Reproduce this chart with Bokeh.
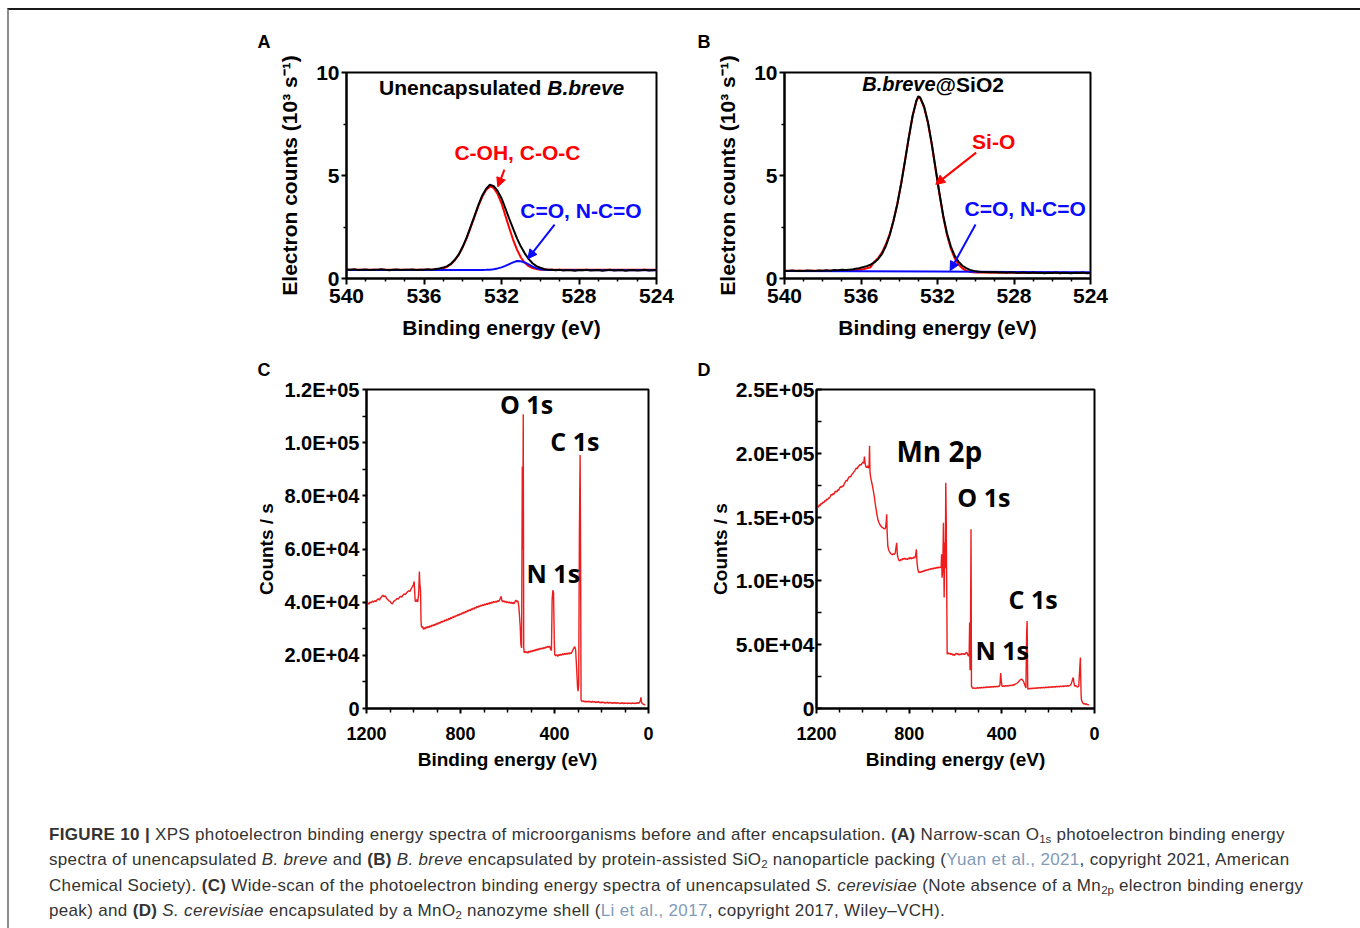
from bokeh.plotting import figure
from bokeh.models import Range1d, FixedTicker, Label, Arrow, NormalHead, Spacer, Div
from bokeh.layouts import row, column
from bokeh.embed import file_html
from bokeh.resources import INLINE

# ---------------- data ----------------
# Panel A: unencapsulated B. breve, O1s narrow scan (10^3 counts/s)
a_env_E = [540.0, 539.8, 539.6, 539.4, 539.2, 539.0, 538.8, 538.6, 538.4, 538.2, 538.0, 537.8, 537.6, 537.4,
           537.2, 537.0, 536.8, 536.6, 536.4, 536.2, 536.0, 535.8, 535.6, 535.4, 535.2, 535.0, 534.8, 534.6,
           534.4, 534.2, 534.0, 533.8, 533.6, 533.4, 533.2, 533.0, 532.8, 532.6, 532.5, 532.4, 532.2, 532.0,
           531.8, 531.6, 531.4, 531.2, 531.0, 530.8, 530.6, 530.4, 530.2, 530.0, 529.8, 529.6, 529.4, 529.2,
           529.0, 528.8, 528.6, 528.4, 528.2, 528.0, 527.8, 527.6, 527.4, 527.2, 527.0, 526.8, 526.6, 526.4,
           526.2, 526.0, 525.8, 525.6, 525.4, 525.2, 525.0, 524.8, 524.6, 524.4, 524.2, 524.0]
a_env_y = [0.44, 0.42, 0.45, 0.41, 0.43, 0.44, 0.41, 0.43, 0.42, 0.45, 0.42, 0.40, 0.43, 0.44,
           0.41, 0.43, 0.42, 0.44, 0.41, 0.43, 0.42, 0.45, 0.43, 0.46, 0.49, 0.53, 0.60, 0.73,
           0.92, 1.18, 1.55, 1.98, 2.50, 3.02, 3.55, 4.02, 4.35, 4.55, 4.52, 4.48, 4.25, 3.90,
           3.40, 2.90, 2.42, 1.95, 1.55, 1.22, 0.95, 0.74, 0.60, 0.52, 0.46, 0.43, 0.42, 0.40,
           0.42, 0.39, 0.41, 0.40, 0.38, 0.41, 0.40, 0.42, 0.39, 0.40, 0.41, 0.38, 0.40, 0.42,
           0.39, 0.40, 0.41, 0.38, 0.40, 0.41, 0.39, 0.40, 0.42, 0.39, 0.40, 0.41]
a_fit1_E = [540.0, 536.0, 535.4, 535.0, 534.8, 534.6, 534.4, 534.2, 534.0, 533.8, 533.6, 533.4, 533.2, 533.0,
            532.8, 532.6, 532.5, 532.4, 532.2, 532.0, 531.8, 531.6, 531.4, 531.2, 531.0, 530.8, 530.6,
            530.4, 530.2, 530.0, 529.5, 524.0]
a_fit1_y = [0.42, 0.42, 0.44, 0.50, 0.57, 0.70, 0.90, 1.16, 1.52, 1.95, 2.46, 2.98, 3.50, 3.95,
            4.30, 4.46, 4.45, 4.38, 4.10, 3.65, 3.05, 2.45, 1.88, 1.40, 1.02, 0.76, 0.60,
            0.51, 0.46, 0.43, 0.42, 0.42]
a_fit2_E = [540.0, 533.2, 533.0, 532.8, 532.6, 532.4, 532.2, 532.0, 531.8, 531.6, 531.4, 531.2, 531.0,
            530.8, 530.6, 530.4, 530.2, 530.0, 529.8, 529.6, 524.0]
a_fit2_y = [0.41, 0.41, 0.415, 0.42, 0.43, 0.45, 0.49, 0.54, 0.61, 0.70, 0.78, 0.85, 0.84,
            0.78, 0.69, 0.58, 0.50, 0.45, 0.42, 0.41, 0.40]

# Panel B: B. breve@SiO2
b_env_E = [540.0, 539.8, 539.6, 539.4, 539.2, 539.0, 538.8, 538.6, 538.4, 538.2, 538.0, 537.8, 537.6, 537.4,
           537.2, 537.0, 536.8, 536.6, 536.4, 536.3, 536.1, 535.9, 535.7, 535.5, 535.3, 535.1, 534.9, 534.7,
           534.5, 534.3, 534.1, 533.9, 533.7, 533.5, 533.3, 533.1, 533.0, 532.9, 532.7, 532.5, 532.3, 532.1,
           531.9, 531.7, 531.5, 531.3, 531.1, 530.9, 530.7, 530.5, 530.3, 530.1, 529.9, 529.7, 529.5, 529.3,
           529.0, 528.8, 528.6, 528.4, 528.2, 528.0, 527.8, 527.6, 527.4, 527.2, 527.0, 526.8, 526.6, 526.4,
           526.2, 526.0, 525.8, 525.6, 525.4, 525.2, 525.0, 524.8, 524.6, 524.4, 524.2, 524.0]
b_env_y = [0.38, 0.36, 0.39, 0.37, 0.38, 0.36, 0.39, 0.38, 0.37, 0.39, 0.38, 0.40, 0.38, 0.41,
           0.40, 0.42, 0.41, 0.43, 0.45, 0.47, 0.50, 0.55, 0.60, 0.67, 0.78, 0.95, 1.20, 1.58,
           2.10, 2.80, 3.62, 4.60, 5.70, 6.85, 7.90, 8.65, 8.85, 8.78, 8.35, 7.60, 6.55, 5.35,
           4.15, 3.05, 2.18, 1.55, 1.10, 0.82, 0.62, 0.50, 0.42, 0.37, 0.34, 0.32, 0.31, 0.30,
           0.31, 0.29, 0.30, 0.28, 0.30, 0.29, 0.27, 0.29, 0.28, 0.27, 0.29, 0.27, 0.28, 0.26,
           0.28, 0.27, 0.29, 0.26, 0.28, 0.27, 0.26, 0.28, 0.27, 0.29, 0.26, 0.27]
b_fit1_E = [540.0, 536.5, 536.0, 535.5, 535.3, 535.1, 534.9, 534.7, 534.5, 534.3, 534.1, 533.9, 533.7, 533.5,
            533.3, 533.1, 533.0, 532.9, 532.7, 532.5, 532.3, 532.1, 531.9, 531.7, 531.5, 531.3, 531.1,
            530.9, 530.7, 530.5, 530.3, 530.0, 524.0]
b_fit1_y = [0.38, 0.39, 0.42, 0.55, 0.82, 1.00, 1.27, 1.66, 2.15, 2.82, 3.62, 4.62, 5.72, 6.85,
            7.90, 8.62, 8.80, 8.74, 8.30, 7.55, 6.50, 5.30, 4.10, 3.00, 2.10, 1.45, 0.98,
            0.68, 0.49, 0.38, 0.32, 0.29, 0.27]
b_fit2_E = [540.0, 536.0, 532.0, 528.0, 524.0]
b_fit2_y = [0.36, 0.35, 0.34, 0.32, 0.30]

# Panel C: wide scan, unencapsulated S. cerevisiae (counts/s)
c_E = [1200, 1195, 1190, 1185, 1180, 1175, 1170, 1165, 1160, 1155, 1150, 1145, 1140, 1135, 1130, 1125,
       1120, 1115, 1110, 1105, 1100, 1095, 1090, 1085, 1080, 1075, 1070, 1065, 1060, 1055, 1050, 1045,
       1040, 1035, 1030, 1025, 1020, 1015, 1010, 1005, 1000, 997, 995, 993, 990, 986, 982, 978, 975,
       973, 970, 968, 966, 962, 958, 954, 950, 946, 942, 938, 934, 930, 926, 922, 918, 914, 910, 906,
       902, 898, 894, 890, 886, 882, 878, 874, 870, 866, 862, 858, 854, 850, 846, 842, 838, 834, 830,
       826, 822, 818, 814, 810, 806, 802, 798, 794, 790, 786, 782, 778, 774, 770, 766, 762, 758, 754,
       750, 746, 742, 738, 734, 730, 726, 722, 718, 714, 710, 706, 702, 698, 694, 690, 686, 682, 678,
       674, 670, 666, 662, 658, 654, 650, 646, 642, 638, 634, 630, 627, 624, 620, 616, 612, 608, 604,
       600, 596, 592, 588, 584, 580, 576, 572, 568, 564, 560, 556, 552, 549, 546, 543, 540, 537, 535,
       533, 531, 529, 525, 521, 517, 513, 509, 505, 501, 497, 493, 489, 485, 481, 477, 473, 469, 465,
       461, 457, 453, 449, 445, 441, 437, 433, 429, 425, 421, 417, 413, 410, 407, 404, 401, 399, 397,
       394, 390, 386, 382, 378, 374, 370, 366, 362, 358, 354, 350, 346, 342, 338, 334, 330, 326, 322,
       318, 314, 310, 307, 304, 302, 300, 297, 294, 291, 289, 287, 285, 282, 278, 274, 270, 266, 262,
       258, 254, 250, 246, 242, 238, 234, 230, 226, 222, 218, 214, 210, 206, 202, 198, 194, 190, 186,
       182, 178, 174, 170, 166, 162, 158, 154, 150, 146, 142, 138, 134, 130, 126, 122, 118, 114, 110,
       106, 102, 98, 94, 90, 86, 82, 78, 74, 70, 66, 62, 58, 54, 50, 46, 42, 38, 34, 32, 30, 28, 25,
       22, 18, 14, 11]
c_counts = [39300, 39800, 39200, 40100, 39700, 40400, 40000, 40600, 40200, 40900, 41300, 40800, 41600,
            42100, 42600, 42000, 42400, 41500, 41000, 40500, 40300, 39700, 39300, 40200, 40600, 40900,
            41400, 41100, 41800, 42200, 41900, 42700, 43100, 42800, 43500, 43900, 44300, 44000, 45000,
            45800, 46600, 47800, 44000, 40500, 40200, 41000, 40100, 43000, 51500, 47000, 44500, 33000,
            30600, 30900, 29800, 30400, 29900, 30700, 30300, 30900, 30400, 31100, 30700, 31400, 31000,
            31600, 31200, 31900, 31500, 32200, 31800, 32400, 32100, 32800, 32400, 33000, 32700, 33300,
            33000, 33600, 33200, 33900, 33500, 34200, 33800, 34500, 34200, 34800, 34400, 35100, 34800,
            35400, 35000, 35700, 35300, 36000, 35600, 36300, 35900, 36600, 36200, 36900, 36600, 37200,
            36800, 37500, 37100, 37800, 37400, 38100, 37700, 38400, 38000, 38600, 38300, 38900, 38500,
            39100, 38700, 39300, 38900, 39500, 39100, 39700, 39300, 39900, 39500, 40100, 39700, 40300,
            39900, 40400, 40000, 40600, 40200, 40800, 41500, 42200, 40500, 40100, 40600, 40000, 40400,
            39800, 40200, 39700, 40100, 39600, 40000, 39500, 39900, 39400, 40200, 40800, 40100, 40500,
            38500, 35000, 31000, 24000, 22800, 91000, 60000, 110700, 23000, 21000, 21500, 20900, 21400,
            20800, 21600, 21100, 21700, 21300, 21900, 21500, 22100, 21700, 22300, 21900, 22500, 22100,
            22700, 22300, 22800, 22400, 23000, 22600, 23200, 22900, 23400, 23000, 23500, 22400, 21800,
            41000, 44500, 43500, 26000, 20000, 20300, 19800, 20200, 19600, 20300, 19900, 20400, 20000,
            20600, 20200, 20700, 20300, 20800, 20400, 20900, 20500, 21000, 20600, 21200, 22000, 22700,
            23300, 22000, 17000, 12000, 8000, 6500, 9000, 66800, 95400, 60000, 3200, 2800, 2600, 2900,
            2500, 2800, 2400, 2700, 2500, 2800, 2400, 2600, 2300, 2700, 2400, 2600, 2200, 2500, 2300,
            2600, 2200, 2400, 2100, 2500, 2200, 2400, 2000, 2300, 2100, 2400, 2000, 2300, 2100, 2200,
            1900, 2200, 2000, 2300, 1900, 2200, 2000, 2100, 1800, 2100, 1900, 2200, 1800, 2100, 1900,
            2000, 1800, 2100, 1900, 2000, 1800, 2100, 1900, 2000, 1800, 2100, 1900, 2200, 2000, 2300,
            3200, 4200, 2600, 2100, 1800, 1600, 1500, 1300]

# Panel D: wide scan, S. cerevisiae@MnO2 (counts/s)
d_E = [1200, 1196, 1192, 1188, 1184, 1180, 1176, 1172, 1168, 1164, 1160, 1156, 1152, 1148, 1144, 1140,
       1136, 1132, 1128, 1124, 1120, 1116, 1112, 1108, 1104, 1100, 1096, 1092, 1088, 1084, 1080, 1076,
       1072, 1068, 1064, 1060, 1056, 1052, 1048, 1044, 1040, 1036, 1032, 1028, 1024, 1020, 1016, 1012,
       1008, 1004, 1000, 996, 993, 990, 987, 983, 979, 976, 973, 971, 969, 966, 962, 958, 954, 950, 946,
       942, 938, 934, 930, 926, 922, 918, 914, 910, 906, 902, 899, 897, 895, 892, 888, 884, 880, 876,
       872, 868, 864, 860, 857, 854, 851, 848, 844, 840, 836, 832, 828, 824, 820, 816, 812, 808, 804,
       800, 796, 792, 788, 784, 780, 776, 772, 769, 766, 762, 758, 754, 750, 746, 742, 738, 734, 730,
       726, 722, 718, 714, 710, 706, 702, 698, 694, 690, 686, 682, 678, 674, 670, 666, 662, 660, 658,
       655, 652, 649, 646, 644, 642, 640, 636, 632, 628, 624, 620, 616, 612, 608, 604, 600, 596, 592,
       588, 584, 580, 576, 572, 568, 564, 560, 556, 552, 548, 544, 541, 539, 538, 537, 535, 533, 531,
       528, 524, 520, 516, 512, 508, 504, 500, 496, 492, 488, 484, 480, 476, 472, 468, 464, 460, 456,
       452, 448, 444, 440, 436, 432, 428, 424, 420, 416, 412, 408, 405, 402, 399, 396, 392, 388, 384,
       380, 376, 372, 368, 364, 360, 356, 352, 348, 344, 340, 336, 332, 328, 324, 320, 316, 312, 306,
       300, 296, 293, 291, 290, 288, 286, 284, 280, 276, 272, 268, 264, 260, 256, 252, 248, 244, 240,
       236, 232, 228, 224, 220, 216, 212, 208, 204, 200, 196, 192, 188, 184, 180, 176, 172, 168, 164,
       160, 156, 152, 148, 144, 140, 136, 132, 128, 124, 120, 116, 112, 108, 104, 100, 96, 92, 89, 86,
       84, 80, 76, 72, 68, 64, 61, 59, 58, 57, 55, 52, 50, 47, 44, 40, 36, 32, 28, 24, 20, 16]
d_counts = [157400, 158500, 157800, 159600, 159000, 160800, 160200, 161900, 161300, 163000, 162500,
            164200, 163600, 165100, 164800, 166300, 167800, 167100, 168600, 168000, 169900, 170300,
            169700, 171500, 171000, 172800, 173900, 173200, 174600, 174100, 176200, 177400, 178900,
            178200, 180000, 181300, 182000, 181400, 183300, 184200, 185000, 186100, 187300, 188500,
            187800, 189600, 190400, 191200, 190600, 192100, 193000, 192300, 197500, 192000, 189500,
            188800, 190200, 188300, 190500, 206000, 185000, 181000, 177500, 174000, 170000, 165500,
            160000, 155500, 151000, 147500, 145500, 144000, 143000, 142200, 141700, 141200, 140800,
            141500, 146000, 152200, 138000, 127000, 124000, 122500, 121500, 121000, 120500, 121300,
            120800, 122000, 126000, 129900, 121000, 118000, 116000, 115600, 116800, 116200, 117600,
            117000, 117900, 116900, 117400, 116700, 117800, 117300, 118400, 117200, 118100, 117500,
            118700, 118000, 120200, 124800, 114000, 108500, 106400, 107200, 106600, 107600, 107000,
            108100, 107500, 108600, 108000, 109000, 108400, 109300, 108800, 109700, 109100, 110000,
            109400, 110300, 109700, 110600, 110000, 110900, 110200, 111000, 110400, 120900, 102500,
            110000, 145600, 87000, 130000, 110000, 176900, 150000, 42600, 43800, 42600, 43400, 42300,
            43100, 41800, 42600, 41500, 42900, 43300, 42200, 43000, 41900, 42700, 42100, 43200, 42400,
            43000, 42300, 43400, 44000, 42600, 41000, 43000, 67300, 37000, 30000, 68600, 140400, 17500,
            16400, 15700, 16300, 15600, 16100, 15700, 16400, 15900, 16500, 16000, 16600, 16100, 16700,
            16200, 16800, 16400, 16900, 16500, 17000, 16600, 17100, 16700, 17200, 16800, 17300, 16900,
            17400, 17000, 17500, 17100, 18500, 27700, 21000, 17600, 17300, 17800, 17400, 17900, 17500,
            18000, 17600, 18200, 17800, 18400, 18000, 18600, 18300, 18900, 19200, 19600, 20200, 21000,
            21800, 22500, 23000, 22600, 21000, 18000, 16000, 58200, 68600, 52000, 15500, 15200, 15800,
            15300, 15900, 15500, 16000, 15600, 16100, 15700, 16200, 15800, 16300, 15900, 16400, 16000,
            16500, 16100, 16600, 16200, 16700, 16300, 16800, 16400, 16900, 16500, 17000, 16600, 17100,
            16700, 17200, 16800, 17300, 16900, 17400, 17000, 17500, 17100, 17600, 17200, 17700, 17300,
            17800, 17400, 17900, 17500, 18000, 18300, 19500, 22000, 24300, 20500, 17800, 17500, 17900,
            17200, 16800, 17500, 30000, 39900, 22000, 12000, 8000, 6000, 5000, 4200, 3600, 3900, 3300,
            3600, 3000, 3200, 2600]

# ticks
ab_xticks = [540, 536, 532, 528, 524]
ab_xminor = [539, 538, 537, 535, 534, 533, 531, 530, 529, 527, 526, 525]
ab_yticks = [0, 5, 10]
ab_yminor = [2.5, 7.5]
cd_xticks = [1200, 800, 400, 0]
cd_xminor = [1100, 1000, 900, 700, 600, 500, 300, 200, 100]
c_yticks = [0, 20000, 40000, 60000, 80000, 100000, 120000]
c_ylabels = ["0", "2.0E+04", "4.0E+04", "6.0E+04", "8.0E+04", "1.0E+05", "1.2E+05"]
c_yminor = [10000, 30000, 50000, 70000, 90000, 110000]
d_yticks = [0, 50000, 100000, 150000, 200000, 250000]
d_ylabels = ["0", "5.0E+04", "1.0E+05", "1.5E+05", "2.0E+05", "2.5E+05"]
d_yminor = [25000, 75000, 125000, 175000, 225000]

FONT = "Liberation Sans"
RED = "#ff0000"
BLUE = "#0a0aff"
SPEC = "#ee1c1c"


def make_fig(width, height, xr, yr, bl, br, bt, bb, letter, letter_offset, letter_standoff, valign):
    p = figure(width=width, height=height, x_range=xr, y_range=yr, output_backend="svg",
               toolbar_location=None, min_border_left=bl, min_border_right=br,
               min_border_top=bt, min_border_bottom=bb)
    p.grid.visible = False
    p.outline_line_color = "black"
    p.outline_line_width = 2
    p.outline_line_alpha = 1
    p.background_fill_color = "white"
    p.border_fill_color = "white"
    # panel letter drawn as the figure title, shifted to the left of the frame
    p.title.text = letter
    p.title.align = "left"
    p.title.vertical_align = valign
    p.title.offset = letter_offset
    p.title.standoff = letter_standoff
    p.title.text_font = FONT
    p.title.text_font_size = "18px"
    p.title.text_font_style = "bold"
    p.title.text_color = "black"
    return p


def style_axis(ax, tsize, lsize, tout, tin, mout, mlin, standoff, lstandoff):
    ax.axis_line_width = 2
    ax.axis_line_color = "black"
    ax.major_tick_line_width = 2
    ax.minor_tick_line_width = 1.5
    ax.major_tick_out = tout
    ax.major_tick_in = tin
    ax.minor_tick_out = mout
    ax.minor_tick_in = mlin
    ax.major_label_text_font = FONT
    ax.major_label_text_font_style = "bold"
    ax.major_label_text_font_size = tsize
    ax.major_label_text_color = "black"
    ax.major_label_standoff = standoff
    ax.axis_label_text_font = FONT
    ax.axis_label_text_font_style = "bold"
    ax.axis_label_text_font_size = lsize
    ax.axis_label_text_color = "black"
    ax.axis_label_standoff = lstandoff


def lab(p, x, y, text, size, color="black", style="bold", font=FONT, align="left"):
    p.add_layout(Label(x=x, y=y, text=text, text_font=font, text_font_size=size,
                       text_font_style=style, text_color=color, text_baseline="alphabetic",
                       text_align=align))


def arrow(p, x0, y0, x1, y1, color):
    p.add_layout(Arrow(end=NormalHead(size=9, fill_color=color, line_color=color, line_width=1),
                       x_start=x0, y_start=y0, x_end=x1, y_end=y1, line_color=color, line_width=2))


def narrow_panel(width, bl, bt, letter, letter_offset):
    p = make_fig(width, 337, Range1d(540, 524), Range1d(0, 10), bl, 20, bt, 69, letter, letter_offset,
                 38, "top")
    p.xaxis.ticker = FixedTicker(ticks=ab_xticks, minor_ticks=ab_xminor)
    p.yaxis.ticker = FixedTicker(ticks=ab_yticks, minor_ticks=ab_yminor)
    style_axis(p.xaxis[0], "21px", "21px", 6, 0, 3, 0, 4, 10)
    style_axis(p.yaxis[0], "21px", "21px", 5, 0, 3, 0, 2, 12)
    p.xaxis.axis_label = "Binding energy (eV)"
    p.yaxis.axis_label = "Electron counts (10\u00b3 s\u207b\u00b9)"
    return p


# ---- Panel A ----
pA = narrow_panel(437, 107, 61, "A", -89)
pA.line(a_fit1_E, a_fit1_y, line_color=RED, line_width=2)
pA.line(a_fit2_E, a_fit2_y, line_color=BLUE, line_width=2)
pA.line(a_env_E, a_env_y, line_color="black", line_width=2)
lab(pA, 529.95, 9.27, "Unencapsulated", "21px", align="right")
lab(pA, 529.64, 9.27, "B.breve", "21px", style="bold italic")
lab(pA, 534.43, 6.13, "C-OH, C-O-C", "21px", color=RED)
lab(pA, 531.03, 3.30, "C=O, N-C=O", "21px", color=BLUE)
arrow(pA, 531.85, 5.28, 532.19, 4.45, RED)
arrow(pA, 529.26, 2.61, 530.64, 0.96, BLUE)

# ---- Panel B ----
pB = narrow_panel(421, 95, 62, "B", -87)
pB.line(b_fit1_E, b_fit1_y, line_color=RED, line_width=2)
pB.line(b_fit2_E, b_fit2_y, line_color=BLUE, line_width=2)
pB.line(b_env_E, b_env_y, line_color="black", line_width=2)
lab(pB, 532.10, 9.43, "B.breve", "20px", style="bold italic", align="right")
lab(pB, 532.10, 9.43, "@SiO2", "21px")
lab(pB, 530.19, 6.67, "Si-O", "21px", color=RED)
lab(pB, 530.59, 3.38, "C=O, N-C=O", "21px", color=BLUE)
arrow(pB, 529.98, 6.11, 532.09, 4.57, RED)
arrow(pB, 530.01, 2.62, 531.34, 0.38, BLUE)


def wide_panel(width, bl, bt, bb, ymax, yticks, ylabels, yminor, ytsize, yin, yout, ystand, ylst,
               letter, letter_offset):
    p = make_fig(width, 437, Range1d(1200, 0), Range1d(0, ymax), bl, 20, bt, bb, letter, letter_offset,
                 20, "bottom")
    p.xaxis.ticker = FixedTicker(ticks=cd_xticks, minor_ticks=cd_xminor)
    p.yaxis.ticker = FixedTicker(ticks=yticks, minor_ticks=yminor)
    p.yaxis.major_label_overrides = {t: s for t, s in zip(yticks, ylabels)}
    style_axis(p.xaxis[0], "18px", "19px", 5, 0, 4, 0, 13, 6)
    style_axis(p.yaxis[0], ytsize, "19px", yout, yin, yout, yin, ystand, ylst)
    p.xaxis.axis_label = "Binding energy (eV)"
    p.yaxis.axis_label = "Counts / s"
    return p


# ---- Panel C ----
pC = wide_panel(429, 127, 40, 75, 120000, c_yticks, c_ylabels, c_yminor, "20px", 0, 4, 3, 4, "C", -109)
pC.line(c_E, c_counts, line_color=SPEC, line_width=1.4)
lab(pC, 632, 114400, "O 1s", "25px", font="Open Sans")
lab(pC, 418, 100800, "C 1s", "25px", font="Open Sans")
lab(pC, 519, 50800, "N 1s", "25px", font="Open Sans")

# ---- Panel D ----
pD = wide_panel(425, 127, 41, 76, 250000, d_yticks, d_ylabels, d_yminor, "21px", 5, 0, 2, 2, "D", -119)
pD.line(d_E, d_counts, line_color=SPEC, line_width=1.4)
lab(pD, 855, 201500, "Mn 2p", "28px", font="Open Sans")
lab(pD, 592, 165500, "O 1s", "25px", font="Open Sans")
lab(pD, 371, 85900, "C 1s", "25px", font="Open Sans")
lab(pD, 514, 45950, "N 1s", "25px", font="Open Sans")

# ---- caption ----
LINK = "color:#7f9bb8"
lines = [
    "<b>FIGURE 10 |</b> XPS photoelectron binding energy spectra of microorganisms before and after "
    "encapsulation. <b>(A)</b> Narrow-scan O<sub>1s</sub> photoelectron binding energy",
    "spectra of unencapsulated <i>B. breve</i> and <b>(B)</b> <i>B. breve</i> encapsulated by "
    "protein-assisted SiO<sub>2</sub> nanoparticle packing (<span style='%s'>Yuan et al., 2021</span>, "
    "copyright 2021, American" % LINK,
    "Chemical Society). <b>(C)</b> Wide-scan of the photoelectron binding energy spectra of unencapsulated "
    "<i>S. cerevisiae</i> (Note absence of a Mn<sub>2p</sub> electron binding energy",
    "peak) and <b>(D)</b> <i>S. cerevisiae</i> encapsulated by a MnO<sub>2</sub> nanozyme shell "
    "(<span style='%s'>Li et al., 2017</span>, copyright 2017, Wiley\u2013VCH)." % LINK,
]
sub_style = "<style>sub{font-size:11.5px;line-height:0;vertical-align:-3px;letter-spacing:0;}</style>"
html = sub_style + "<div style=\"padding:33px 0 0 35px;font-family:'Liberation Sans',Arial,sans-serif;" \
    "font-size:17px;letter-spacing:0.33px;color:#333;\">" + "".join(
        "<div style='white-space:nowrap;height:25.3px;line-height:25.3px;'>%s</div>" % ln for ln in lines) + "</div>"
cap = Div(text=html, width=1344, height=143)

top = row(Spacer(width=230, height=337), pA, Spacer(width=13, height=337), pB)
bot = row(Spacer(width=230, height=437), pC, Spacer(width=21, height=437), pD)
layout = column(top, bot, cap, styles={"margin-left": "7px", "margin-top": "8px",
                                       "border-top": "2px solid #1a1a1a",
                                       "border-left": "2px solid #8c8c8c",
                                       "border-right": "2px solid #8c8c8c"})

open("out.html", "w").write(file_html(layout, INLINE))
